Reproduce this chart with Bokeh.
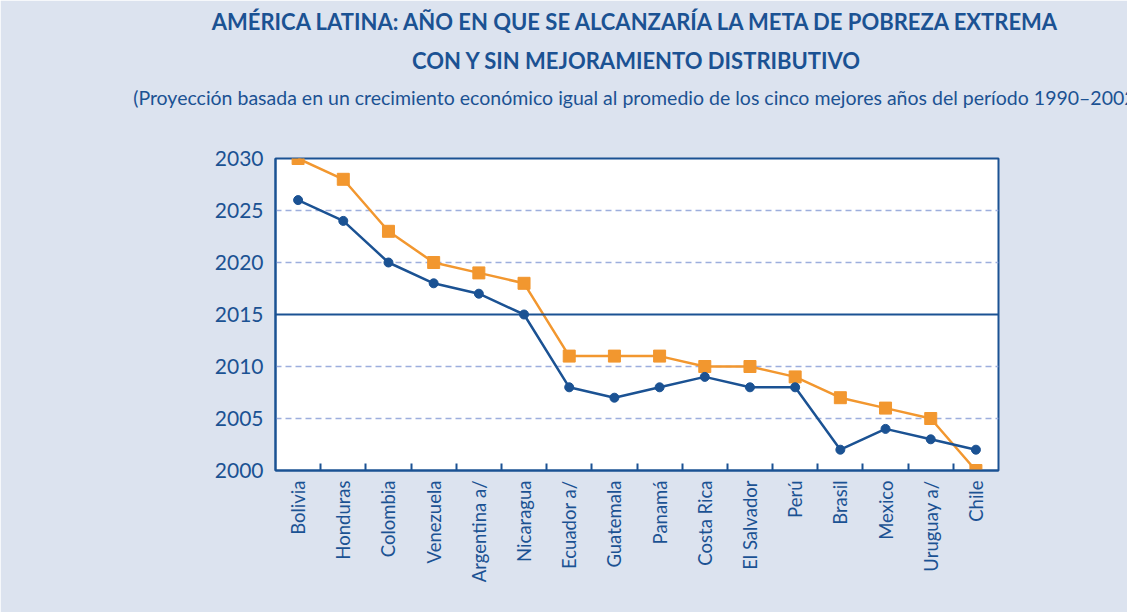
import numpy as np
from bokeh.plotting import figure
from bokeh.models import (Range1d, FixedTicker, Span, Title, Legend, LegendItem)
from bokeh.embed import file_html
from bokeh.resources import INLINE

countries = ["Bolivia", "Honduras", "Colombia", "Venezuela", "Argentina a/", "Nicaragua",
             "Ecuador a/", "Guatemala", "Panamá", "Costa Rica", "El Salvador", "Perú",
             "Brasil", "Mexico", "Uruguay a/", "Chile"]
sin_mejora = [2030, 2028, 2023, 2020, 2019, 2018, 2011, 2011, 2011, 2010, 2010, 2009, 2007, 2006, 2005, 2000]
con_mejora = [2026, 2024, 2020, 2018, 2017, 2015, 2008, 2007, 2008, 2009, 2008, 2008, 2002, 2004, 2003, 2002]
y_ticks = [2000, 2005, 2010, 2015, 2020, 2025, 2030]
goal_year = 2015

BG = "#DCE3EF"
BLUE = "#1B5293"
ORANGE = "#F2972F"
GRID = "#9DAEDD"
FONT = "Lato"

n = len(countries)
xs = np.arange(n) + 0.5

p = figure(frame_width=723, frame_height=312, output_backend="svg", toolbar_location=None,
           x_range=Range1d(0, n), y_range=Range1d(2000, 2030),
           background_fill_color="white", border_fill_color=BG,
           min_border_left=275, min_border_right=129, min_border_top=10, min_border_bottom=10)
p.title.visible = False
p.outline_line_color = BLUE
p.outline_line_width = 2

# grid
p.xgrid.visible = False
p.ygrid.ticker = FixedTicker(ticks=[t for t in y_ticks if t not in (2000, 2030, goal_year)])
p.ygrid.grid_line_color = GRID
p.ygrid.grid_line_dash = "6 4"
p.ygrid.grid_line_width = 1.5
p.add_layout(Span(location=goal_year, dimension="width", line_color=BLUE, line_width=2))

# axes
xa = p.xaxis[0]
xa.ticker = FixedTicker(ticks=list(xs), minor_ticks=list(range(1, n)))
xa.major_label_overrides = {float(x): c for x, c in zip(xs, countries)}
xa.major_label_orientation = np.pi / 2
xa.major_tick_in = 0
xa.major_tick_out = 0
xa.minor_tick_in = 7
xa.minor_tick_out = 0
xa.minor_tick_line_color = BLUE
xa.minor_tick_line_width = 2
xa.axis_line_color = BLUE
xa.axis_line_width = 2
xa.major_label_text_color = BLUE
xa.major_label_text_font = FONT
xa.major_label_text_font_size = "18.5px"
xa.major_label_standoff = 10

ya = p.yaxis[0]
ya.ticker = FixedTicker(ticks=y_ticks)
ya.major_tick_in = 0
ya.major_tick_out = 0
ya.minor_tick_in = 0
ya.minor_tick_out = 0
ya.axis_line_color = BLUE
ya.axis_line_width = 2
ya.major_label_text_color = BLUE
ya.major_label_text_font = FONT
ya.major_label_text_font_size = "21px"
ya.major_label_standoff = 12

# data
l1 = p.line(xs, sin_mejora, line_color=ORANGE, line_width=2.5)
s1 = p.scatter(xs, sin_mejora, marker="square", size=12, fill_color=ORANGE, line_color=ORANGE)
l2 = p.line(xs, con_mejora, line_color=BLUE, line_width=2.5)
s2 = p.scatter(xs, con_mejora, marker="circle", size=9, fill_color=BLUE, line_color=BLUE)

legend = Legend(items=[LegendItem(label="Sin mejoramiento distributivo", renderers=[l1, s1]),
                       LegendItem(label="Con mejoramiento distributivo", renderers=[l2, s2])],
                orientation="horizontal", location="center",
                background_fill_alpha=0, border_line_alpha=0,
                label_text_font=FONT, label_text_font_size="19.5px", label_text_color=BLUE,
                glyph_width=32, spacing=6, padding=0, margin=0, label_standoff=6)
p.add_layout(legend, "below")

# titles (first added = closest to plot)
p.add_layout(Title(text=" ", text_font_size="30px", background_fill_alpha=0), "above")
p.add_layout(Title(text="(Proyección basada en un crecimiento económico igual al promedio de los cinco mejores años del período 1990–2002)",
                   align="center", text_font=FONT, text_font_size="19.5px", text_font_style="normal",
                   text_color=BLUE), "above")
p.add_layout(Title(text="CON Y SIN MEJORAMIENTO DISTRIBUTIVO",
                   align="center", text_font=FONT, text_font_size="22px", text_font_style="bold",
                   text_color=BLUE), "above")
p.add_layout(Title(text="AMÉRICA LATINA: AÑO EN QUE SE ALCANZARÍA LA META DE POBREZA EXTREMA",
                   align="center", text_font=FONT, text_font_size="22px", text_font_style="bold",
                   text_color=BLUE), "above")

open("out.html", "w").write(file_html(p, INLINE))
